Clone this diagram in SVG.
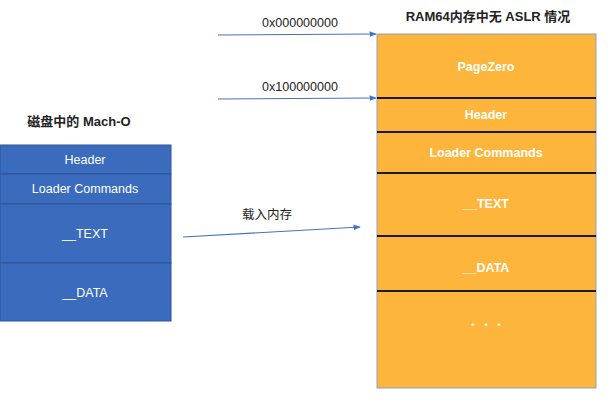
<svg xmlns="http://www.w3.org/2000/svg" width="612" height="402" viewBox="0 0 612 402">
<defs>
<style>
.t{font-family:"Liberation Sans",Arial,sans-serif;font-size:12.5px;fill:#fff;text-anchor:middle}
.b{font-weight:bold}
.k{font-family:"Liberation Sans","Noto Sans CJK SC",sans-serif;font-size:12.5px;fill:#222;text-anchor:middle}
.blue{fill:#3a6bbd;stroke:#2f5597;stroke-width:1}
.org{fill:#fdb53c}
.div{stroke:#1a1a1a;stroke-width:2}
.con{stroke:#4472c4;stroke-width:1.2;fill:none}
</style>
<marker id="ah" viewBox="0 0 10 10" refX="9" refY="5" markerWidth="6" markerHeight="6" orient="auto"><path d="M0,1 L10,5 L0,9 z" fill="#4472c4"/></marker>
</defs>
<rect width="612" height="402" fill="#fff"/>
<text class="k b" x="79" y="126" style="font-size:13px">磁盘中的 Mach-O</text>
<text class="k b" x="488" y="21" style="font-size:13px">RAM64内存中无 ASLR 情况</text>
<g id="disk">
<rect class="blue" x="0" y="145" width="171" height="29"/>
<rect class="blue" x="0" y="174" width="171" height="30"/>
<rect class="blue" x="0" y="204" width="171" height="59"/>
<rect class="blue" x="0" y="263" width="171" height="58"/>
<text class="t" x="85" y="164">Header</text>
<text class="t" x="85" y="193">Loader Commands</text>
<text class="t" x="85" y="238">__TEXT</text>
<text class="t" x="85" y="297">__DATA</text>
</g>
<g id="ram">
<rect class="org" x="377" y="34" width="219" height="354" stroke="#8ea0c0" stroke-width="1"/>
<line class="div" x1="377" y1="98" x2="596" y2="98"/>
<line class="div" x1="377" y1="132" x2="596" y2="132"/>
<line class="div" x1="377" y1="173" x2="596" y2="173"/>
<line class="div" x1="377" y1="236" x2="596" y2="236"/>
<line class="div" x1="377" y1="291" x2="596" y2="291"/>
<text class="t b" x="486" y="71">PageZero</text>
<text class="t b" x="486" y="119">Header</text>
<text class="t b" x="486" y="157">Loader Commands</text>
<text class="t b" x="486" y="208">__TEXT</text>
<text class="t b" x="486" y="272">__DATA</text>
<text class="t b" x="486" y="328" style="font-size:9px" xml:space="preserve">•    •    •</text>
</g>
<g id="connectors">
<line class="con" x1="218" y1="35" x2="376" y2="34" marker-end="url(#ah)"/>
<line class="con" x1="218" y1="99" x2="376" y2="98" marker-end="url(#ah)"/>
<line class="con" x1="183" y1="237" x2="360" y2="227" marker-end="url(#ah)"/>
<text class="t" style="fill:#222" x="300" y="27">0x000000000</text>
<text class="t" style="fill:#222" x="300" y="91">0x100000000</text>
<text class="k" x="267" y="219">载入内存</text>
</g>
</svg>
